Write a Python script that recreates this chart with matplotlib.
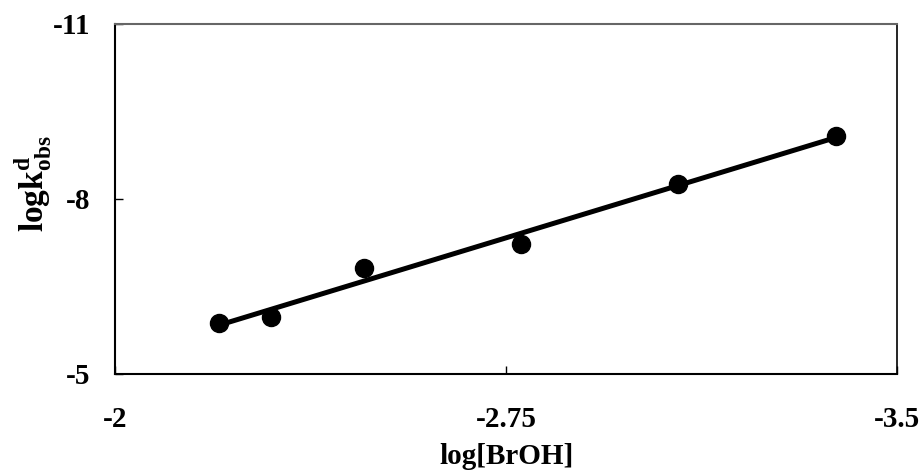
import matplotlib
matplotlib.use("Agg")
import matplotlib.pyplot as plt
import numpy as np

# Data
log_broh = [-2.20, -2.30, -2.478, -2.779, -3.08, -3.383]
log_kobs = [-5.875, -5.978, -6.818, -7.23, -8.259, -9.082]
x_ticks = [-2, -2.75, -3.5]
x_tick_labels = ["-2", "-2.75", "-3.5"]
y_ticks = [-5, -8, -11]
y_tick_labels = ["-5", "-8", "-11"]

plt.rcParams['font.family'] = ['Liberation Serif', 'DejaVu Serif']
plt.rcParams['font.weight'] = 'bold'
plt.rcParams['mathtext.fontset'] = 'custom'
plt.rcParams['mathtext.rm'] = 'Liberation Serif:bold'
plt.rcParams['mathtext.it'] = 'Liberation Serif:bold'
plt.rcParams['mathtext.bf'] = 'Liberation Serif:bold'

fig = plt.figure(figsize=(9.21, 4.73), dpi=100)
ax = fig.add_axes([115/921, 1-374/473, (897-115)/921, (374-24)/473])

# trend line (least squares over the data)
slope, intercept = np.polyfit(log_broh, log_kobs, 1)
xl = np.array([log_broh[0], log_broh[-1]])
ax.plot(xl, slope*xl + intercept, color='black', lw=3.6, solid_capstyle='butt', zorder=2)
ax.plot(log_broh, log_kobs, 'o', color='black', ms=13, zorder=3)

ax.set_xlim(-2, -3.5)
ax.set_ylim(-5, -11)
ax.set_xticks(x_ticks)
ax.set_xticklabels(x_tick_labels)
ax.set_yticks(y_ticks)
ax.set_yticklabels(y_tick_labels)
ax.tick_params(axis='x', direction='in', length=6, width=1, pad=23, labelsize=21)
ax.tick_params(axis='y', direction='in', length=6, width=1, pad=18, labelsize=21)
for lbl in ax.get_xticklabels() + ax.get_yticklabels():
    lbl.set_fontweight('bold')

ax.spines['left'].set_linewidth(1.5)
ax.spines['bottom'].set_linewidth(1.5)
ax.spines['right'].set_linewidth(1.2)
ax.spines['top'].set_linewidth(1.5)
ax.spines['top'].set_color('#666666')

ax.set_xlabel('log[BrOH]', fontsize=21, fontweight='bold')
ax.xaxis.set_label_coords(0.5, (374-443)/350)
fig.text(33/921, 1-184/473, r'$\mathrm{logk}^{\mathrm{d}}_{\mathrm{obs}}$', fontsize=24,
         rotation=90, ha='center', va='center')

fig.savefig('out.png', dpi=100)
